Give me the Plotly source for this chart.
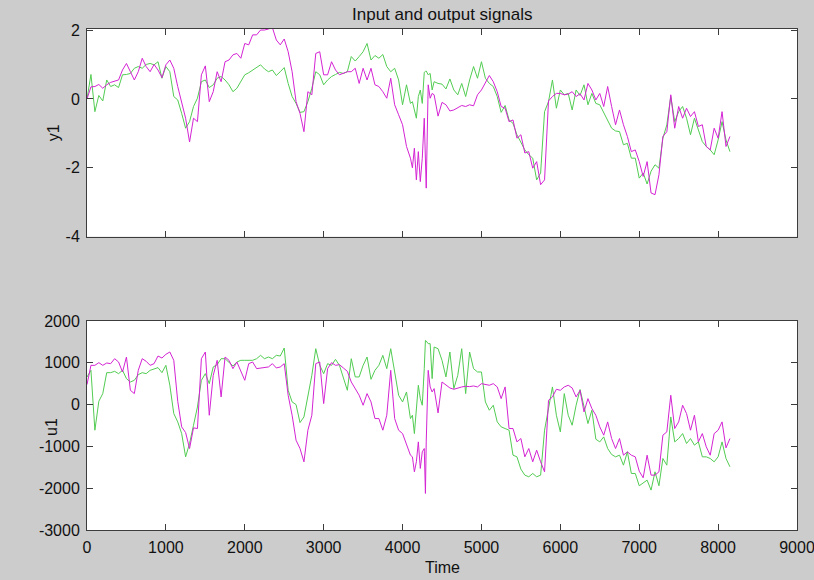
import numpy as np
import plotly.graph_objects as go

# ---- time grid (samples) ----
time = (list(range(0, 4101, 50))
        + [4125, 4150, 4175, 4200, 4225, 4250, 4275, 4290, 4300, 4325, 4350, 4375, 4400]
        + list(range(4450, 8151, 50)))

# ---- output y1: green series ----
y1_green = [
    0.0, 0.71, -0.37, 0.10, -0.06, 0.55, 0.36, 0.41, 0.33, 0.70,
    0.71, 0.74, 0.89, 0.94, 0.89, 1.00, 1.03, 0.99, 1.08, 0.60,
    0.94, 0.79, 0.07, -0.03, -0.42, -0.85, -0.66, -0.22, 0.02, 0.50,
    0.55, 0.33, 0.41, 0.60, 0.65, 0.55, 0.41, 0.21, 0.31, 0.50,
    0.70, 0.76, 0.84, 0.91, 0.99, 0.87, 0.79, 0.84, 0.68, 0.79,
    0.91, 0.45, 0.07, -0.13, -0.39, -0.37, -0.08, 0.31, 0.79, 0.70,
    0.41, 0.55, 0.65, 0.71, 0.77, 0.74, 0.79, 1.23, 1.10, 1.23,
    1.37, 1.61, 1.13, 1.26, 1.18, 1.29, 0.94, 0.79, 0.89, 0.55,
    -0.17, 0.41, -0.13,
    -0.08, -0.37, -0.56, 0.07, 0.26, -0.13, 0.77, 0.80, 0.81, 0.70, 0.74, 0.26, 0.50,
    0.45, 0.43, 0.29, 0.58, 0.26, 0.12, 0.45, 0.07, 0.55, 0.94,
    0.60, 1.08, 0.60, 0.45, 0.36, 0.07, -0.39, -0.19, -0.61, -0.71,
    -1.04, -1.24, -1.48, -1.62, -1.72, -2.35, -2.15, -0.37, -0.08, 0.55,
    -0.27, 0.26, 0.12, 0.16, -0.32, 0.26, 0.10, 0.41, -0.17, 0.16,
    -0.13, -0.17, -0.39, -0.61, -0.85, -0.93, -0.95, -1.33, -1.29, -1.72,
    -1.72, -2.30, -2.15, -2.47, -2.10, -1.91, -2.01, -1.14, -0.75, 0.07,
    -0.66, -0.37, -0.22, -0.56, -1.04, -0.56, -0.93, -1.24, -1.38, -1.48,
    -1.62, -1.19, -0.66, -1.19, -1.53,
]

# ---- output y1: magenta series ----
y1_magenta = [
    0.00, 0.35, 0.36, 0.42, 0.31, 0.41, 0.48, 0.52, 0.55, 0.84,
    1.03, 0.79, 0.55, 0.79, 1.18, 0.94, 0.79, 1.00, 0.84, 0.62,
    0.99, 1.13, 0.89, 0.36, -0.08, -0.56, -1.25, -0.56, -0.66, 0.70,
    0.96, -0.08, 0.21, 0.79, 0.50, 1.08, 1.13, 1.28, 1.32, 1.18,
    1.61, 1.57, 1.86, 1.86, 2.00, 2.00, 2.03, 2.07, 1.71, 1.57,
    1.74, 1.37, 0.79, -0.08, -0.42, -0.95, 0.21, 0.12, 1.32, 1.37,
    0.70, 0.70, 1.08, 0.84, 0.70, 0.74, 0.79, 0.79, 0.89, 0.45,
    0.89, 0.55, 0.89, 0.41, 0.36, 0.21, 0.02, 0.60, -0.17, -0.46,
    -0.75, -1.38, -1.72,
    -2.00, -1.43, -2.35, -1.53, -2.40, -1.72, -0.56, -2.00, -2.59, 0.41, 0.02, 0.16, 0.12,
    -0.50, -0.10, -0.17, -0.35, -0.32, -0.25, -0.19, -0.22, -0.17, -0.20,
    0.12, 0.26, 0.45, 0.68, 0.50, 0.21, -0.22, -0.27, -0.66, -0.61,
    -1.14, -1.04, -1.57, -1.53, -2.01, -1.82, -2.49, -2.35, -0.06, 0.07,
    0.16, 0.16, 0.12, 0.14, 0.21, 0.07, 0.15, -0.03, 0.45, 0.26,
    -0.03, 0.16, -0.22, 0.36, -0.22, -0.75, -0.32, -0.75, -1.09, -1.53,
    -1.48, -1.82, -2.25, -1.82, -2.73, -2.78, -2.20, -1.09, -0.95, 0.12,
    -0.85, -0.22, -0.56, -0.27, -0.51, -0.37, -0.80, -0.75, -1.38, -1.48,
    -0.85, -1.14, -0.37, -1.38, -1.09,
]

# ---- input u1: green series ----
u1_green = [
    660, 820, -613, 80, 263, 764, 764, 796, 740, 820,
    621, 541, 581, 716, 764, 740, 820, 860, 884, 764,
    939, 462, -215, -414, -693, -1250, -931, -494, -56, 581,
    740, 501, 900, 955, 1098, 1098, 1019, 923, 1019, 1059,
    1059, 1059, 1059, 1098, 1178, 1098, 1138, 1098, 1178, 1162,
    1353, 342, 64, 0, -430, -295, 223, 700, 1337, 939,
    740, 979, 939, 1082, 939, 621, 342, 1098, 661, 661,
    939, 1138, 605, 820, 939, 1178, 860, 1337, 780, 223,
    64, 302, -334,
    -255, -693, -175, 462, 143, -16, 860, 1536, 1520, 1457, 1457, 621, 1377,
    1337, 1059, 661, 1258, 382, 700, 1337, 263, 1258, 860,
    780, 780, 64, -135, -16, -414, -533, -573, -613, -1210,
    -1250, -1544, -1688, -1727, -1648, -1727, -1688, -613, -96, 422,
    -255, -653, 263, -255, -494, -16, 360, -16, -454, -135,
    -828, -892, -772, -1051, -1194, -1250, -1210, -1449, -1130, -1648,
    -1648, -1942, -1863, -1807, -2046, -1608, -1942, -1290, -1449, -295,
    -892, -812, -693, -931, -812, -971, -892, -1250, -1250, -1290,
    -1369, -1250, -892, -1290, -1488,
]

# ---- input u1: magenta series ----
u1_magenta = [
    480, 939, 939, 1003, 939, 995, 979, 1098, 1019, 780,
    1138, 342, 263, 820, 1098, 1035, 939, 979, 1162, 1114,
    1202, 1258, 1059, 80, -533, -669, -1051, -557, -573, 1098,
    1258, -255, 700, 1059, 183, 1138, 1059, 860, 1019, 780,
    581, 979, 1019, 860, 876, 900, 900, 979, 876, 900,
    979, 223, -255, -852, -1051, -1369, -613, -255, 979, 1019,
    24, 860, 1003, 939, 955, 876, 796, 541, 382, 223,
    -16, 263, 64, -334, -334, -613, -255, 820, -334, -613,
    -693, -931, -1210,
    -1250, -1608, -1369, -892, -1528, -1130, -1051, -2125, -892, 820, 422, 302, 382,
    -200, 541, 462, 398, 366, 398, 422, 438, 430, 446,
    422, 501, 478, 462, 501, 422, 143, 422, -573, -573,
    -892, -812, -1250, -1051, -1369, -1091, -1369, -1608, 103, 183,
    366, 342, 422, 462, 398, 183, 340, -175, 143, -96,
    -255, -533, -732, -414, -812, -1051, -812, -1210, -1130, -1210,
    -1250, -1592, -1751, -1210, -1688, -1688, -1608, -732, -653, 223,
    -573, -414, -16, -215, -613, -255, -892, -693, -1011, -1210,
    -693, -613, -414, -1035, -812,
]

x_ticks = list(range(0, 9001, 1000))
x_ticktext = [str(v) for v in x_ticks]
y1_ticks = [-4, -2, 0, 2]
y1_ticktext = ["-4", "-2", "0", "2"]
u1_ticks = [-3000, -2000, -1000, 0, 1000, 2000]
u1_ticktext = ["-3000", "-2000", "-1000", "0", "1000", "2000"]

assert len(time) == len(y1_green) == len(y1_magenta) == len(u1_green) == len(u1_magenta)

GREEN = "#52cc52"
MAGENTA = "#d424d4"
FRAME = "#3c3c3c"
FONT = "Liberation Sans, Arial, Helvetica, sans-serif"

fig = go.Figure()
fig.add_trace(go.Scatter(x=time, y=y1_green, mode="lines", line=dict(color=GREEN, width=1),
                         xaxis="x", yaxis="y", showlegend=False))
fig.add_trace(go.Scatter(x=time, y=y1_magenta, mode="lines", line=dict(color=MAGENTA, width=1),
                         xaxis="x", yaxis="y", showlegend=False))
fig.add_trace(go.Scatter(x=time, y=u1_green, mode="lines", line=dict(color=GREEN, width=1),
                         xaxis="x2", yaxis="y2", showlegend=False))
fig.add_trace(go.Scatter(x=time, y=u1_magenta, mode="lines", line=dict(color=MAGENTA, width=1),
                         xaxis="x2", yaxis="y2", showlegend=False))

common = dict(showline=True, linecolor=FRAME, linewidth=1, mirror="ticks",
              ticks="inside", ticklen=6, tickcolor=FRAME, tickwidth=1,
              showgrid=False, zeroline=False, automargin=False,
              tickfont=dict(family=FONT, size=16, color="#111111"))

fig.update_layout(
    width=814, height=580,
    margin=dict(l=87, r=17, t=29, b=50, autoexpand=False),
    paper_bgcolor="#cccccc",
    plot_bgcolor="#ffffff",
    font=dict(family=FONT, size=16, color="#111111"),
    xaxis=dict(domain=[0, 1], range=[0, 9000], anchor="y", tickvals=x_ticks,
               showticklabels=False, **common),
    yaxis=dict(domain=[0.5854, 1], range=[-4, 2.03], anchor="x", tickvals=y1_ticks,
               ticktext=y1_ticktext, ticklabelstandoff=3, **common),
    xaxis2=dict(domain=[0, 1], range=[0, 9000], anchor="y2", tickvals=x_ticks,
                ticktext=x_ticktext, ticklabelstandoff=3, ticklabeloverflow="allow", **common),
    yaxis2=dict(domain=[0, 0.4172], range=[-3000, 2000], anchor="x2", tickvals=u1_ticks,
                ticktext=u1_ticktext, ticklabelstandoff=3, **common),
    annotations=[
        dict(text="Input and output signals", xref="paper", yref="paper", x=0.5, y=1.0299,
             xanchor="center", yanchor="middle", showarrow=False,
             font=dict(family=FONT, size=17, color="#111111")),
        dict(text="y1", xref="paper", yref="paper", x=-0.0479, y=0.794, textangle=-90,
             xanchor="center", yanchor="middle", showarrow=False,
             font=dict(family=FONT, size=16, color="#111111")),
        dict(text="u1", xref="paper", yref="paper", x=-0.0493, y=0.2056, textangle=-90,
             xanchor="center", yanchor="middle", showarrow=False,
             font=dict(family=FONT, size=16, color="#111111")),
        dict(text="Time", xref="paper", yref="paper", x=0.5, y=-0.0739,
             xanchor="center", yanchor="middle", showarrow=False,
             font=dict(family=FONT, size=16, color="#111111")),
    ],
)

fig.write_html("out.html")
